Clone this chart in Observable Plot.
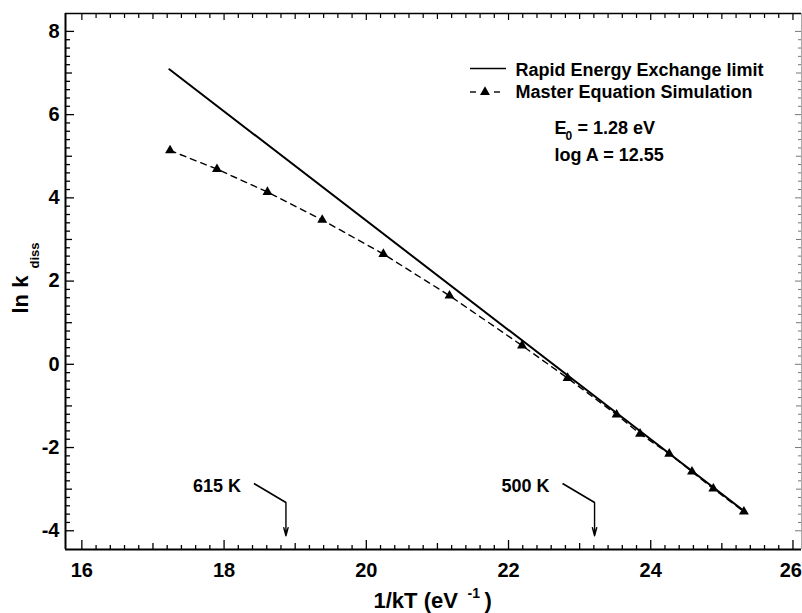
<!DOCTYPE html>
<html><head><meta charset="utf-8">
<script src="https://cdn.jsdelivr.net/npm/d3@7"></script>
<script src="https://cdn.jsdelivr.net/npm/@observablehq/plot@0.6"></script>
<style>
html,body{margin:0;padding:0;background:#fff;}
#chart svg{display:block;}
</style></head><body><div id="chart"></div>
<script>
// ---- data ----
const invKT  = [17.24, 17.90, 18.61, 19.38, 20.24, 21.17, 22.19, 22.83, 23.52, 23.85, 24.26, 24.58, 24.88, 25.31];
const lnKSim = [5.14, 4.69, 4.14, 3.47, 2.65, 1.65, 0.45, -0.33, -1.21, -1.67, -2.15, -2.58, -2.99, -3.54];
const limitX = [17.23, 25.33];
const limitY = [7.09, -3.55];
const xTickLabels = [16, 18, 20, 22, 24];
const xEdgeLabel = [26];
const yTickLabels = [-4, -2, 0, 2, 4, 6, 8];
const tempK = [615, 500];
const tempLabels = ["615 K", "500 K"];
const legendLabels = ["Rapid Energy Exchange limit", "Master Equation Simulation"];
const paramE0 = "= 1.28 eV";
const paramLogA = "log A = 12.55";
const kB = 8.617e-5; // eV/K

// ---- layout ----
const W = 802, H = 613, mL = 65, mR = 1, mT = 13, mB = 64;
const fw = W - mL - mR, fh = H - mT - mB;
const xDomain = [15.77, 26.12];
const yDomain = [-4.45, 8.43];
const FONT = "'Liberation Sans', Arial, Helvetica, sans-serif";

const sim = invKT.map((x, i) => ({x, y: lnKSim[i]}));
const lim = limitX.map((x, i) => ({x, y: limitY[i]}));
const ann = tempK.map((T, i) => ({x: 1 / (kB * T), label: tempLabels[i]}));

const near = (a, b) => Math.abs(a - b) < 1e-6;
const xAll = d3.range(80, 131).map(v => v / 5);          // 16 .. 26 step 0.2
const xMaj = xAll.filter(v => near(v / 2, Math.round(v / 2)));
const xMed = xAll.filter(v => near(v, Math.round(v)) && !xMaj.includes(v));
const xMin = xAll.filter(v => !near(v, Math.round(v)));
const yAll = d3.range(-20, 41).map(v => v / 5);          // -4 .. 8 step 0.2
const yMaj = yAll.filter(v => near(v / 2, Math.round(v / 2)));
const yMed = yAll.filter(v => near(v, Math.round(v)) && !yMaj.includes(v));
const yMin = yAll.filter(v => !near(v, Math.round(v)));

const tickB = (vals, len) => Plot.tickX(vals, {x: d => d, insetTop: fh - len, stroke: "#000", strokeWidth: 1.3});
const tickT = (vals, len) => Plot.tickX(vals, {x: d => d, insetBottom: fh - len, stroke: "#000", strokeWidth: 1.2});
const tickL = (vals, len) => Plot.tickY(vals, {y: d => d, insetRight: fw - len, stroke: "#000", strokeWidth: 1.3});
const tickR = (vals, len) => Plot.tickY(vals, {y: d => d, insetLeft: fw - len, stroke: "#777", strokeWidth: 1});

const txt = (s, px, py, size, opts = {}) => Plot.text([s], {
  text: d => d, frameAnchor: "top-left", dx: px - mL, dy: py - mT,
  textAnchor: "start", lineAnchor: "bottom", fontSize: size, fontWeight: "bold",
  fill: "#000", ...opts
});

function legendSamples(index, scales, values, dims) {
  const g = d3.create("svg:g");
  g.append("line").attr("x1", 470).attr("x2", 506).attr("y1", 68.5).attr("y2", 68.5)
    .attr("stroke", "#000").attr("stroke-width", 1.6);
  g.append("line").attr("x1", 470).attr("x2", 476).attr("y1", 92).attr("y2", 92)
    .attr("stroke", "#000").attr("stroke-width", 1.4);
  g.append("line").attr("x1", 494).attr("x2", 500).attr("y1", 92).attr("y2", 92)
    .attr("stroke", "#000").attr("stroke-width", 1.4);
  g.append("path").attr("transform", "translate(485,92)")
    .attr("d", d3.symbol(d3.symbolTriangle, 43)()).attr("fill", "#000");
  return g.node();
}

const chart = Plot.plot({
  width: W, height: H,
  marginLeft: mL, marginRight: mR, marginTop: mT, marginBottom: mB,
  style: {fontFamily: FONT, background: "#fff", color: "#000", overflow: "visible"},
  x: {domain: xDomain},
  y: {domain: yDomain},
  marks: [
    // frame
    Plot.ruleX([xDomain[0]], {stroke: "#000", strokeWidth: 2}),
    Plot.ruleY([yDomain[0]], {stroke: "#000", strokeWidth: 2}),
    Plot.ruleY([yDomain[1]], {stroke: "#000", strokeWidth: 1.5}),
    Plot.ruleX([xDomain[1]], {stroke: "#aaa", strokeWidth: 1}),
    // inward ticks
    tickB(xMaj, 9), tickB(xMed, 6), tickB(xMin, 4),
    tickT(xMaj, 7), tickT(xMed, 6), tickT(xMin, 5),
    tickL(yMaj, 9), tickL(yMed, 7), tickL(yMin, 5),
    tickR(yMaj, 6), tickR(yMed, 5), tickR(yMin, 3),
    // tick labels
    Plot.axisX(xTickLabels, {anchor: "bottom", tickSize: 0, tickPadding: 13, fontSize: 20, fontWeight: "bold", label: null, tickFormat: d => String(d)}),
    Plot.text(xEdgeLabel, {x: d => d, frameAnchor: "bottom", dy: 13, lineAnchor: "top", textAnchor: "end", dx: 9, text: d => String(d), fontSize: 20, fontWeight: "bold", fill: "#000"}),
    Plot.axisY(yTickLabels, {anchor: "left", tickSize: 0, tickPadding: 6, fontSize: 20, fontWeight: "bold", label: null, tickFormat: d => String(d)}),
    // data
    Plot.line(lim, {x: "x", y: "y", stroke: "#000", strokeWidth: 2}),
    Plot.line(sim, {x: "x", y: "y", stroke: "#000", strokeWidth: 1.4, strokeDasharray: "6,5"}),
    Plot.dot(sim, {x: "x", y: "y", symbol: "triangle", r: 3.7, fill: "#000", stroke: "none"}),
    // temperature annotations
    Plot.link(ann, {x1: d => d.x - 0.45, y1: -2.865, x2: "x", y2: -3.32, stroke: "#000", strokeWidth: 1.6}),
    Plot.arrow(ann, {x1: "x", y1: -3.32, x2: "x", y2: -4.12, stroke: "#000", strokeWidth: 1.4, headLength: 9, headAngle: 30}),
    Plot.text(ann, {x: "x", y: -3.08, text: "label", textAnchor: "end", lineAnchor: "bottom", dx: -45, fontSize: 18, fontWeight: "bold", fill: "#000"}),
    // legend
    legendSamples,
    txt(legendLabels[0], 515, 75, 18),
    txt(legendLabels[1], 515, 97, 18),
    // parameters
    txt("E", 554, 133, 18),
    txt("0", 565, 139, 12),
    txt(paramE0, 577, 133, 18),
    txt(paramLogA, 554, 160, 18),
    // axis titles
    txt("1/kT (eV", 373, 607, 22),
    txt("-1", 467, 597, 14),
    txt(")", 484, 607, 22),
    txt("ln k", 27, 313, 22, {rotate: -90}),
    txt("diss", 38, 268, 13, {rotate: -90})
  ]
});
document.getElementById("chart").append(chart);
</script>
</body></html>
